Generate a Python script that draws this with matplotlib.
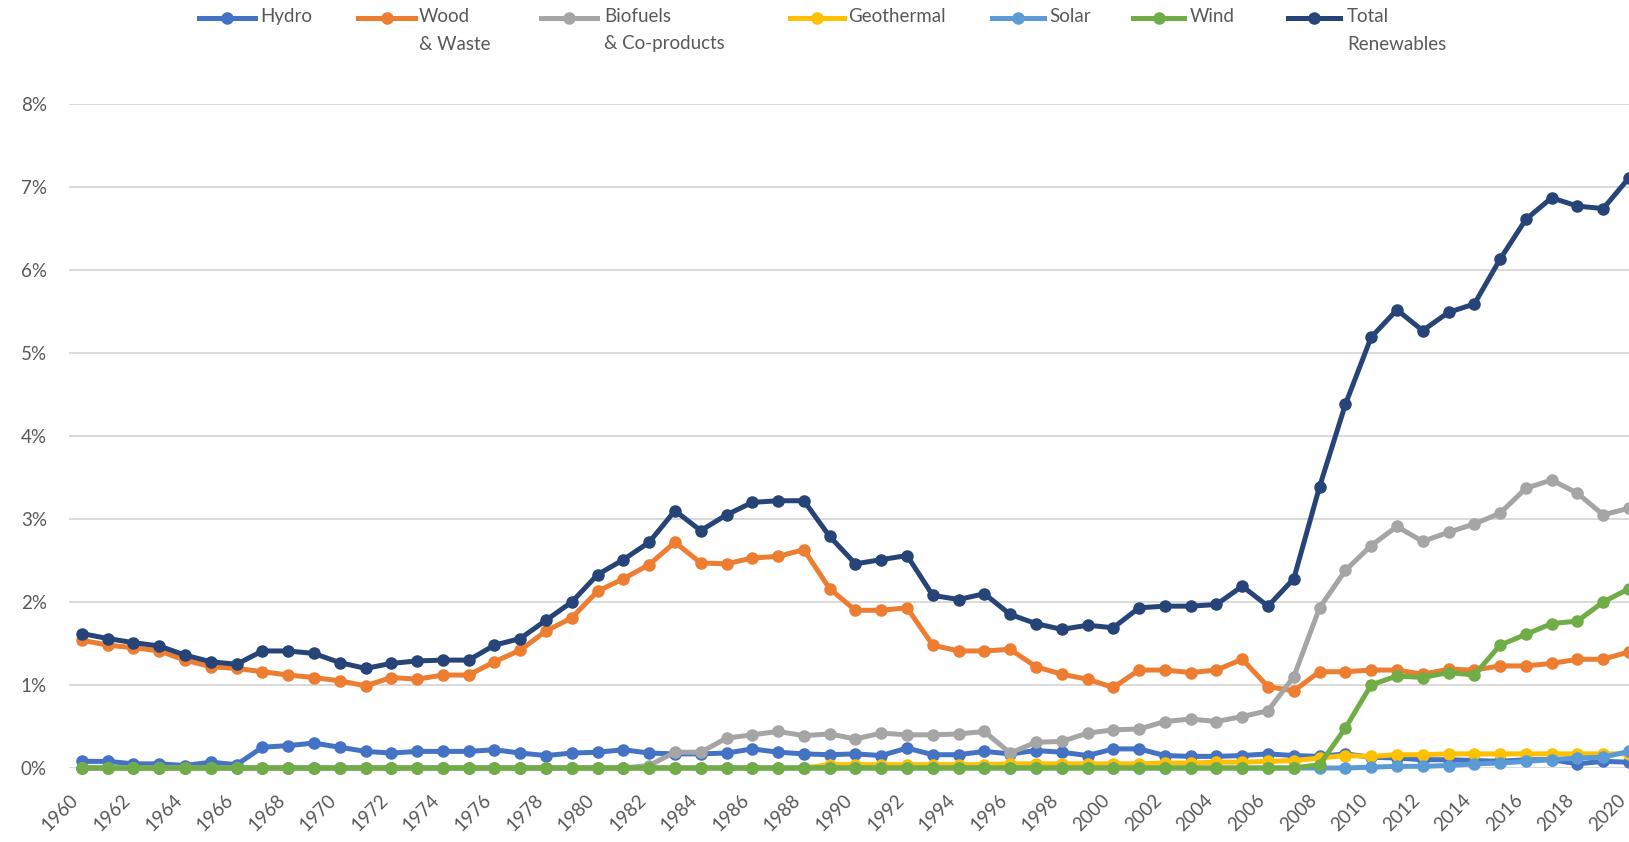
import matplotlib
matplotlib.use('Agg')
import matplotlib.pyplot as plt
from matplotlib.lines import Line2D

# Share of renewables by source, percent, 1960-2020
years = list(range(1960, 2021))

hydro = [0.08, 0.08, 0.05, 0.05, 0.03, 0.07, 0.04, 0.25, 0.27, 0.30,
         0.25, 0.20, 0.18, 0.20, 0.20, 0.20, 0.22, 0.18, 0.15, 0.18,
         0.19, 0.22, 0.18, 0.17, 0.17, 0.18, 0.23, 0.19, 0.17, 0.16,
         0.17, 0.15, 0.24, 0.16, 0.16, 0.20, 0.17, 0.21, 0.19, 0.15,
         0.23, 0.23, 0.15, 0.14, 0.14, 0.15, 0.17, 0.15, 0.14, 0.17,
         0.13, 0.12, 0.10, 0.10, 0.09, 0.08, 0.10, 0.10, 0.05, 0.08,
         0.07]

wood_waste = [1.54, 1.48, 1.45, 1.41, 1.30, 1.22, 1.20, 1.16, 1.12, 1.09,
              1.05, 0.99, 1.09, 1.07, 1.12, 1.12, 1.28, 1.42, 1.65, 1.81,
              2.13, 2.28, 2.45, 2.72, 2.47, 2.46, 2.53, 2.55, 2.63, 2.16,
              1.90, 1.90, 1.93, 1.48, 1.41, 1.41, 1.43, 1.22, 1.13, 1.07,
              0.97, 1.18, 1.18, 1.15, 1.18, 1.31, 0.98, 0.93, 1.16, 1.16,
              1.18, 1.18, 1.13, 1.19, 1.18, 1.23, 1.23, 1.26, 1.31, 1.31,
              1.40]

biofuels = [0.0] * 21 + [
    0.00, 0.03, 0.19, 0.19, 0.36, 0.40, 0.44, 0.39, 0.41,
    0.35, 0.42, 0.40, 0.40, 0.41, 0.44, 0.18, 0.31, 0.32, 0.42,
    0.46, 0.47, 0.56, 0.59, 0.56, 0.62, 0.69, 1.10, 1.93, 2.38,
    2.68, 2.91, 2.73, 2.84, 2.94, 3.07, 3.37, 3.47, 3.31, 3.05,
    3.13]

geothermal = [0.0] * 29 + [
    0.04,
    0.04, 0.04, 0.04, 0.04, 0.04, 0.04, 0.05, 0.05, 0.05, 0.05,
    0.05, 0.05, 0.06, 0.06, 0.07, 0.07, 0.08, 0.09, 0.12, 0.15,
    0.14, 0.16, 0.16, 0.17, 0.17, 0.17, 0.17, 0.17, 0.17, 0.17,
    0.17]

solar = [0.0] * 48 + [
    0.00, 0.00,
    0.01, 0.02, 0.02, 0.03, 0.05, 0.06, 0.08, 0.10, 0.12, 0.13,
    0.20]

wind = [0.0] * 48 + [
    0.04, 0.48,
    1.00, 1.11, 1.09, 1.15, 1.12, 1.48, 1.61, 1.74, 1.77, 2.00,
    2.16]

total = [1.62, 1.56, 1.51, 1.47, 1.36, 1.28, 1.25, 1.41, 1.41, 1.38,
         1.27, 1.20, 1.26, 1.29, 1.30, 1.30, 1.48, 1.56, 1.78, 2.00,
         2.33, 2.51, 2.72, 3.10, 2.86, 3.05, 3.20, 3.22, 3.22, 2.79,
         2.46, 2.51, 2.56, 2.08, 2.03, 2.10, 1.85, 1.74, 1.67, 1.72,
         1.69, 1.93, 1.95, 1.95, 1.97, 2.19, 1.95, 2.28, 3.39, 4.38,
         5.19, 5.52, 5.27, 5.49, 5.59, 6.13, 6.61, 6.87, 6.77, 6.74,
         7.11]

SERIES = [
    ("Hydro", hydro, "#4472C4"),
    ("Wood\n& Waste", wood_waste, "#ED7D31"),
    ("Biofuels\n& Co-products", biofuels, "#A5A5A5"),
    ("Geothermal", geothermal, "#FFC000"),
    ("Solar", solar, "#5B9BD5"),
    ("Wind", wind, "#70AD47"),
    ("Total\nRenewables", total, "#264478"),
]

# legend layout in pixels: (line start, line end, text start)
LEGEND_POS = [(199, 255, 260), (358, 415, 419), (541, 597, 604),
              (790, 844, 848), (992, 1044, 1049), (1133, 1184, 1190),
              (1288, 1340, 1347)]

W, H = 1629, 842
TEXT_COLOR = "#595959"
FONT = ["Lato", "DejaVu Sans"]

plt.rcParams['font.family'] = FONT

fig = plt.figure(figsize=(W / 100, H / 100), dpi=100)
ax = fig.add_axes([69 / W, 1 - 768 / H, 1 - 69 / W, (768 - 104) / H])

for label, values, color in SERIES:
    ax.plot(years, values, color=color, linewidth=3.6, marker='o',
            markersize=8, clip_on=False, solid_joinstyle='round')

ax.set_xlim(1959.5, 2020.0)
ax.set_ylim(0, 8)
ax.set_yticks(range(0, 9))
ax.set_yticklabels([f"{v}%" for v in range(0, 9)])
ax.set_xticks(years[::2])
ax.set_xticklabels([str(y) for y in years[::2]], rotation=45,
                   ha='right', va='top')
ax.tick_params(axis='y', length=0, pad=16, labelsize=13.5,
               labelcolor=TEXT_COLOR)
ax.tick_params(axis='x', length=0, pad=17, labelsize=13.5,
               labelcolor=TEXT_COLOR)
ax.grid(axis='y', color='#d9d9d9', linewidth=1.4)
ax.set_axisbelow(True)
for side in ['top', 'right', 'left', 'bottom']:
    ax.spines[side].set_visible(False)

# Excel-style legend: handle aligned with the first line of the label
for (label, values, color), (x0, x1, xt) in zip(SERIES, LEGEND_POS):
    y = 1 - 18 / H
    fig.add_artist(Line2D([x0 / W, x1 / W], [y, y], transform=fig.transFigure,
                          color=color, linewidth=3.6))
    fig.add_artist(Line2D([(x0 + x1) / 2 / W], [y], transform=fig.transFigure,
                          color=color, marker='o', markersize=8))
    fig.text(xt / W, 1 - 8 / H, label, ha='left', va='top', fontsize=13.5,
             color=TEXT_COLOR, linespacing=1.75)

fig.savefig("out.png", dpi=100)
plt.close(fig)
